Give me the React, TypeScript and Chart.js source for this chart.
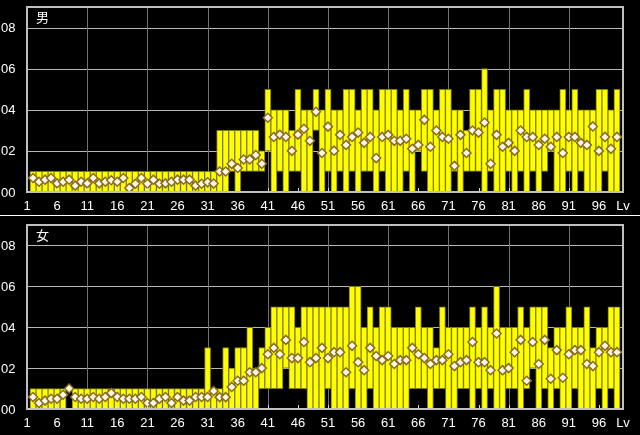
import React, { useEffect, useRef } from "react";
import { Chart, registerables } from "chart.js";
Chart.register(...registerables);

// Levels shown as bars (the axis starts at 1 and ends at "Lv")
const LEVELS = [
  2, 3, 4, 5, 6, 7, 8, 9, 10, 11, 12, 13, 14, 15, 16, 17, 18, 19, 20, 21,
  22, 23, 24, 25, 26, 27, 28, 29, 30, 31, 32, 33, 34, 35, 36, 37, 38, 39, 40, 41,
  42, 43, 44, 45, 46, 47, 48, 49, 50, 51, 52, 53, 54, 55, 56, 57, 58, 59, 60, 61,
  62, 63, 64, 65, 66, 67, 68, 69, 70, 71, 72, 73, 74, 75, 76, 77, 78, 79, 80, 81,
  82, 83, 84, 85, 86, 87, 88, 89, 90, 91, 92, 93, 94, 95, 96, 97, 98, 99,
];
const X_TICKS = [1, 6, 11, 16, 21, 26, 31, 36, 41, 46, 51, 56, 61, 66, 71, 76, 81, 86, 91, 96, 100];
const X_GRID = [11, 21, 31, 41, 51, 61, 71, 81, 91];
const Y_TICKS = [0, 2, 4, 6, 8];
const Y_LABELS = ["00", "02", "04", "06", "08"];

// 男
const MALE_MIN = [
  0, 0, 0, 0, 0, 0, 0, 0, 0, 0, 0, 0, 0, 0, 0, 0, 0, 0, 0, 0,
  0, 0, 0, 0, 0, 0, 0, 0, 0, 0, 0, 0, 0, 1, 0, 1, 1, 1, 1, 2,
  0, 1, 0, 1, 1, 0, 0, 3, 0, 1, 0, 1, 0, 1, 0, 1, 1, 0, 1, 0,
  0, 0, 1, 0, 2, 1, 0, 0, 0, 0, 1, 0, 1, 1, 1, 0, 1, 0, 0, 1,
  0, 1, 0, 1, 0, 1, 2, 0, 0, 1, 0, 1, 0, 0, 0, 1, 0, 0,
];
const MALE_MAX = [
  1, 1, 1, 1, 1, 1, 1, 1, 1, 1, 1, 1, 1, 1, 1, 1, 1, 1, 1, 1,
  1, 1, 1, 1, 1, 1, 1, 1, 1, 1, 1, 3, 3, 3, 3, 3, 3, 3, 2, 5,
  4, 4, 4, 3, 5, 4, 4, 5, 4, 5, 4, 4, 5, 5, 4, 5, 5, 4, 5, 5,
  5, 4, 5, 4, 4, 5, 5, 4, 5, 5, 4, 4, 3, 5, 5, 6, 4, 5, 5, 4,
  4, 4, 5, 4, 4, 4, 4, 4, 5, 4, 5, 4, 4, 4, 5, 5, 4, 5,
];
const MALE_AVG = [
  0.68, 0.5, 0.6, 0.68, 0.42, 0.5, 0.6, 0.31, 0.5, 0.42, 0.68, 0.42, 0.5, 0.57, 0.5, 0.68, 0.19, 0.4, 0.68, 0.4,
  0.6, 0.4, 0.42, 0.5, 0.6, 0.6, 0.6, 0.31, 0.4, 0.47, 0.41, 1.0, 1.0, 1.37, 1.17, 1.58, 1.58, 1.8, 1.37, 3.61,
  2.68, 2.79, 2.68, 2.0, 2.79, 3.08, 2.49, 3.9, 1.9, 3.18, 2.01, 2.78, 2.29, 2.68, 2.89, 2.39, 2.68, 1.65, 2.68, 2.78,
  2.49, 2.49, 2.59, 2.1, 2.29, 3.51, 2.2, 2.99, 2.68, 2.59, 1.27, 2.78, 1.9, 2.99, 2.89, 3.38, 1.37, 2.78, 2.2, 2.39,
  2.0, 2.99, 2.68, 2.68, 2.29, 2.59, 2.2, 2.68, 1.9, 2.68, 2.68, 2.39, 2.29, 3.19, 2.0, 2.68, 2.1, 2.68,
];

// 女
const FEMALE_MIN = [
  0, 0, 0, 0, 0, 0, 1, 0, 0, 0, 0, 0, 0, 0, 0, 0, 0, 0, 0, 0,
  0, 0, 0, 0, 0, 0, 0, 0, 0, 0, 0, 0, 0, 0, 0, 0, 0, 0, 1, 1,
  1, 1, 2, 1, 1, 1, 0, 0, 0, 1, 0, 0, 0, 1, 0, 0, 1, 0, 0, 0,
  0, 0, 0, 1, 1, 1, 0, 1, 1, 0, 0, 1, 1, 0, 1, 0, 1, 0, 0, 1,
  1, 0, 1, 2, 0, 1, 0, 1, 0, 0, 1, 0, 0, 0, 1, 0, 1, 0,
];
const FEMALE_MAX = [
  1, 1, 1, 1, 1, 1, 1, 1, 1, 1, 1, 1, 1, 1, 1, 1, 1, 1, 1, 1,
  1, 1, 1, 1, 1, 1, 1, 1, 1, 3, 1, 1, 3, 2, 3, 3, 4, 2, 3, 4,
  5, 5, 5, 5, 4, 5, 5, 5, 5, 5, 5, 5, 5, 6, 6, 4, 5, 4, 5, 5,
  4, 4, 4, 4, 5, 4, 4, 3, 5, 4, 4, 4, 4, 5, 4, 5, 4, 6, 4, 4,
  4, 5, 4, 5, 5, 5, 3, 4, 4, 5, 4, 4, 5, 3, 4, 4, 5, 5,
];
const FEMALE_AVG = [
  0.59, 0.29, 0.41, 0.5, 0.5, 0.7, 1.0, 0.59, 0.5, 0.5, 0.59, 0.5, 0.59, 0.78, 0.59, 0.5, 0.5, 0.5, 0.59, 0.29,
  0.29, 0.5, 0.59, 0.29, 0.59, 0.41, 0.41, 0.59, 0.59, 0.59, 0.88, 0.58, 0.58, 1.08, 1.38, 1.38, 1.8, 1.8, 2.0, 2.68,
  2.99, 2.68, 3.38, 2.49, 2.49, 3.28, 2.29, 2.49, 2.99, 2.49, 2.78, 2.78, 1.8, 3.09, 2.29, 1.9, 2.99, 2.59, 2.39, 2.59,
  2.2, 2.39, 2.39, 2.99, 2.68, 2.49, 2.2, 2.39, 2.39, 2.68, 2.1, 2.29, 2.39, 3.28, 2.29, 2.29, 1.9, 3.69, 1.9, 2.0,
  2.78, 3.38, 1.38, 3.28, 2.2, 3.38, 1.48, 2.88, 1.53, 2.68, 2.88, 2.88, 2.2, 2.1, 2.78, 3.09, 2.78, 2.78,
];

const FONT = "'Liberation Sans', Arial, sans-serif";

const framePlugin = {
  id: "frame",
  beforeDatasetsDraw(chart: any) {
    const { ctx, chartArea: a, scales } = chart;
    const x = scales.x, y = scales.y;
    ctx.save();
    ctx.lineWidth = 1;
    ctx.strokeStyle = "#b8b8b8";
    for (const v of Y_TICKS) {
      if (v === 0) continue;
      const py = Math.round(y.getPixelForValue(v)) + 0.5;
      ctx.beginPath(); ctx.moveTo(a.left, py); ctx.lineTo(a.right, py); ctx.stroke();
    }
    ctx.strokeStyle = "#707070";
    for (const v of X_GRID) {
      const px = Math.round(x.getPixelForValue(v)) + 0.5;
      ctx.beginPath(); ctx.moveTo(px, a.top); ctx.lineTo(px, a.bottom); ctx.stroke();
    }
    ctx.restore();
  },
  afterDatasetsDraw(chart: any, _a: any, opts: any) {
    const { ctx, chartArea: a, scales } = chart;
    const x = scales.x, y = scales.y;
    ctx.save();
    ctx.strokeStyle = "#d8d8d8";
    ctx.lineWidth = 1;
    for (const v of X_TICKS) {
      if (v === 1 || v === 100) continue;
      const px = Math.round(x.getPixelForValue(v)) + 0.5;
      ctx.beginPath(); ctx.moveTo(px, a.bottom); ctx.lineTo(px, a.bottom - 4); ctx.stroke();
    }
    ctx.strokeStyle = "#c0c0c0";
    ctx.lineWidth = 2;
    ctx.strokeRect(a.left, a.top, a.right - a.left, a.bottom - a.top);
    ctx.fillStyle = "#ffffff";
    ctx.font = "13px " + FONT;
    ctx.textAlign = "left";
    ctx.textBaseline = "middle";
    Y_TICKS.forEach((v, i) => {
      ctx.fillText(Y_LABELS[i], 1, y.getPixelForValue(v) + 1);
    });
    ctx.font = "13px 'Noto Sans CJK JP', sans-serif";
    ctx.textBaseline = "top";
    ctx.fillText(opts.title, a.left + 9, a.top + 4);
    ctx.restore();
  },
};

function Panel(props: {
  title: string; mins: number[]; maxs: number[]; avgs: number[];
  height: number; axisH: number;
}) {
  const ref = useRef<HTMLCanvasElement>(null);
  useEffect(() => {
    const chart = new Chart(ref.current as HTMLCanvasElement, {
      type: "bar",
      data: {
        datasets: [
          {
            type: "line",
            data: LEVELS.map((l, i) => ({ x: l, y: props.avgs[i] })),
            showLine: false,
            pointStyle: "rectRot",
            pointRadius: 4.5,
            pointBackgroundColor: "#fffbe8",
            pointBorderColor: "#8c6a20",
            pointBorderWidth: 1.5,
            order: 1,
          } as any,
          {
            type: "bar",
            data: LEVELS.map((l, i) => ({ x: l, y: [props.mins[i], props.maxs[i]] })),
            backgroundColor: "#ffff00",
            borderColor: "#808000",
            borderWidth: 1,
            borderSkipped: false,
            barPercentage: 1,
            categoryPercentage: 1,
            grouped: false,
            order: 2,
          } as any,
        ],
      },
      options: {
        animation: false,
        responsive: false,
        maintainAspectRatio: false,
        events: [],
        layout: { padding: { top: 7, left: 1, right: 17, bottom: 0 } },
        plugins: { legend: { display: false }, tooltip: { enabled: false }, frame: { title: props.title } } as any,
        scales: {
          x: {
            type: "linear",
            min: 1,
            max: 100,
            offset: false,
            grid: { display: false, drawTicks: false, offset: false },
            border: { display: false },
            afterBuildTicks: (s: any) => { s.ticks = X_TICKS.map((v) => ({ value: v })); },
            afterFit: (s: any) => { s.height = props.axisH; },
            ticks: {
              autoSkip: false,
              maxRotation: 0,
              padding: 7,
              color: "#ffffff",
              font: { family: FONT, size: 13 },
              callback: (v: any) => (v === 100 ? "Lv" : String(v)),
            },
          },
          y: {
            type: "linear",
            min: 0,
            max: 9,
            grid: { display: false, drawTicks: false },
            border: { display: false },
            afterBuildTicks: (s: any) => { s.ticks = Y_TICKS.map((v) => ({ value: v })); },
            afterFit: (s: any) => { s.width = 26; },
            ticks: { display: false },
          },
        },
      } as any,
      plugins: [framePlugin],
    });
    return () => chart.destroy();
  }, []);
  return <canvas ref={ref} width={640} height={props.height} style={{ display: "block", width: 640, height: props.height }} />;
}

export default function App() {
  return (
    <div style={{ position: "fixed", left: 0, top: 0, width: 640, height: 435, background: "#000", overflow: "hidden" }}>
      <Panel title="男" mins={MALE_MIN} maxs={MALE_MAX} avgs={MALE_AVG} height={214} axisH={22} />
      <div style={{ height: 1 }} />
      <div style={{ height: 1, background: "#ffffff" }} />
      <div style={{ height: 2 }} />
      <Panel title="女" mins={FEMALE_MIN} maxs={FEMALE_MAX} avgs={FEMALE_AVG} height={217} axisH={26} />
    </div>
  );
}
